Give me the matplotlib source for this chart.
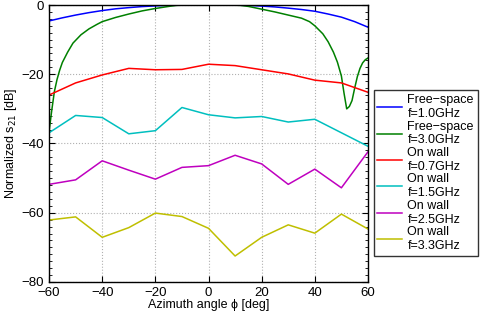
import numpy as np
import matplotlib.pyplot as plt
from matplotlib.ticker import MultipleLocator

plt.rcParams['font.family'] = ['Liberation Sans', 'DejaVu Sans']
plt.rcParams['axes.unicode_minus'] = True

# angles for measured on-wall curves
ang = [-60, -50, -40, -30, -20, -10, 0, 10, 20, 30, 40, 50, 60]

# free-space 1.0 GHz
fs1_ang = [-60, -55, -50, -45, -40, -35, -30, -25, -20, -15, -10, -5, 0,
           5, 10, 15, 20, 25, 30, 35, 40, 45, 50, 55, 60]
fs1_val = [-4.6, -3.7, -2.9, -2.2, -1.6, -1.1, -0.75, -0.45, -0.25, -0.1, -0.03, 0.0, 0.0,
           0.0, -0.03, -0.12, -0.3, -0.55, -0.9, -1.3, -1.8, -2.6, -3.5, -4.8, -6.4]

# free-space 3.0 GHz
fs3_ang = [-60, -59, -58, -57, -56, -55, -53, -51, -48, -45, -42, -40, -35, -30, -25,
           -20, -15, -12, -8, 0, 8, 12, 15, 20, 25, 30, 35, 38, 40, 43, 45, 47, 48.5,
           50, 51, 52, 53, 54, 55, 56, 57, 58, 59, 60]
fs3_val = [-36.6, -30.5, -25.0, -21.5, -18.8, -16.6, -13.6, -11.0, -8.6, -6.9, -5.6, -4.8,
           -3.6, -2.6, -1.7, -1.0, -0.4, -0.1, 0.0, 0.0, 0.0, -0.1, -0.4, -1.2, -2.0, -2.9,
           -3.8, -4.8, -6.0, -8.3, -10.6, -13.6, -16.5, -20.5, -25.5, -30.0, -29.3, -27.6,
           -24.0, -20.7, -18.3, -16.7, -15.8, -15.3]

# on wall measurements
w07 = [-26.0, -22.5, -20.2, -18.3, -18.7, -18.6, -17.1, -17.5, -18.7, -19.9, -21.7, -22.5, -25.2]
w15 = [-36.9, -31.9, -32.5, -37.2, -36.3, -29.6, -31.7, -32.6, -32.2, -33.8, -33.0, -36.9, -40.8]
w25 = [-51.8, -50.5, -45.0, -47.7, -50.3, -46.9, -46.4, -43.4, -45.9, -51.8, -47.4, -52.8, -42.4]
w33 = [-62.1, -61.2, -67.1, -64.3, -60.1, -61.1, -64.5, -72.5, -67.1, -63.5, -65.9, -60.4, -64.7]

labels = ['Free\u2212space\nf=1.0GHz', 'Free\u2212space\nf=3.0GHz',
          'On wall\nf=0.7GHz', 'On wall\nf=1.5GHz',
          'On wall\nf=2.5GHz', 'On wall\nf=3.3GHz']
colors = ['#0000ff', '#008000', '#ff0000', '#00bfbf', '#bf00bf', '#bfbf00']

fig = plt.figure(figsize=(4.81, 3.14), dpi=100)
ax = fig.add_axes([0.102, 0.102, 0.663, 0.882])

lines = []
lines += ax.plot(fs1_ang, fs1_val, color=colors[0], lw=1.1)
lines += ax.plot(fs3_ang, fs3_val, color=colors[1], lw=1.1)
for vals, c in zip([w07, w15, w25, w33], colors[2:]):
    lines += ax.plot(ang, vals, color=c, lw=1.1)

ax.set_xlim(-60, 60)
ax.set_ylim(-80, 0)
ax.set_xticks(np.arange(-60, 61, 20))
ax.set_yticks(np.arange(-80, 1, 20))
ax.yaxis.set_minor_locator(MultipleLocator(2))
ax.tick_params(direction='in', which='both', top=True, right=True, labelsize=9.5)
ax.tick_params(which='major', length=4)
ax.tick_params(which='minor', length=2)
ax.grid(True, which='major', linestyle=':', color='#b0b0b0', lw=0.8)
for s in ax.spines.values():
    s.set_linewidth(1.0)

ax.set_xlabel('Azimuth angle \u03d5 [deg]', fontsize=9, labelpad=0)
ax.set_ylabel('Normalized s$_{21}$ [dB]', fontsize=9, labelpad=2)

leg = fig.legend(lines, labels, loc='upper left', bbox_to_anchor=(0.777, 0.712),
                 fontsize=9, frameon=True, fancybox=False, edgecolor='black',
                 handlelength=2.0, handletextpad=0.4, labelspacing=0.05,
                 borderpad=0.3, borderaxespad=0)
leg.get_frame().set_linewidth(1.0)

fig.savefig('out.png', dpi=100)
